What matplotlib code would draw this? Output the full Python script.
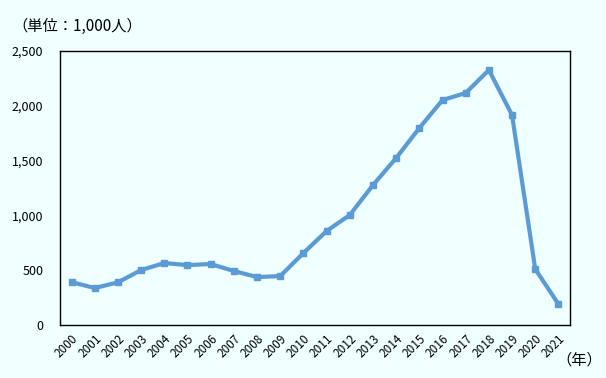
import matplotlib.pyplot as plt
import numpy as np

plt.rcParams['font.family'] = ['Noto Sans CJK JP', 'DejaVu Sans']

years = [str(y) for y in range(2000, 2022)]
values = [392, 338, 390, 502, 566, 547, 557, 493, 438, 447, 657, 858,
          1004, 1277, 1524, 1797, 2053, 2117, 2327, 1916, 511, 192]

bg = '#F0FFFF'
fig = plt.figure(figsize=(6.06, 3.78), dpi=100, facecolor=bg)
ax = fig.add_axes([0.099, 0.140, 0.8416, 0.725], facecolor=bg)

x = np.arange(len(years))
ax.plot(x, values, color='#5B9BD5', linewidth=3, marker='s', markersize=5)

ax.set_xlim(-0.5, len(years) - 0.5)
ax.set_ylim(0, 2500)
ax.set_yticks(range(0, 2501, 500))
ax.set_yticklabels([f'{v:,}' for v in range(0, 2501, 500)], fontsize=9)
ax.set_xticks(x)
ax.set_xticklabels(years, rotation=45, ha='right', rotation_mode='anchor', fontsize=8.5)
ax.tick_params(axis='x', length=0, pad=5)
ax.tick_params(axis='y', length=0, pad=12)
for s in ax.spines.values():
    s.set_linewidth(1)
    s.set_color('black')

fig.text(0.02, 0.93, '（単位：1,000人）', fontsize=11, va='center', ha='left')
fig.text(0.918, 0.048, '（年）', fontsize=11, va='center', ha='left')

plt.savefig('out.png', dpi=100, facecolor=bg)
